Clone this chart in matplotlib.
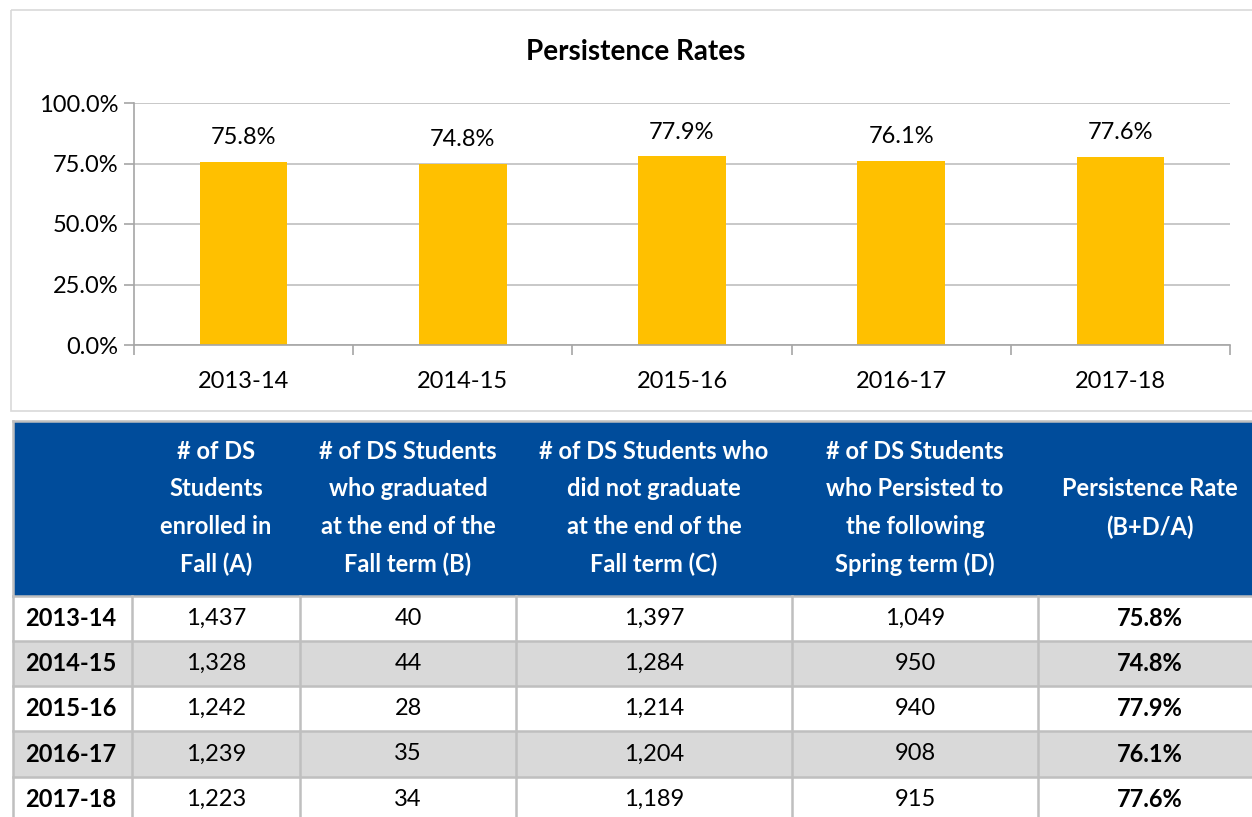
import matplotlib.pyplot as plt
from matplotlib.patches import Rectangle
import numpy as np

plt.rcParams['font.family'] = ['Lato', 'DejaVu Sans']

anos = ['2013-14', '2014-15', '2015-16', '2016-17', '2017-18']
taxa = [75.8, 74.8, 77.9, 76.1, 77.6]
matriculados = [1437, 1328, 1242, 1239, 1223]
formados = [40, 44, 28, 35, 34]
nao_formados = [1397, 1284, 1214, 1204, 1189]
persistiram = [1049, 950, 940, 908, 915]

cabecalhos = ['',
              '# of DS\nStudents\nenrolled in\nFall (A)',
              '# of DS Students\nwho graduated\nat the end of the\nFall term (B)',
              '# of DS Students who\ndid not graduate\nat the end of the\nFall term (C)',
              '# of DS Students\nwho Persisted to\nthe following\nSpring term (D)',
              'Persistence Rate\n(B+D/A)']

W, H = 1252, 817
fs = 17
fig = plt.figure(figsize=(W / 100, H / 100), dpi=100)

# camada de fundo em coordenadas de pixel
fundo = fig.add_axes([0, 0, 1, 1])
fundo.set_xlim(0, W)
fundo.set_ylim(H, 0)
fundo.axis('off')

# moldura do grafico
fundo.add_patch(Rectangle((11, 10), 1260, 401, fill=False, ec='#D9D9D9', lw=1.2))
fundo.text(636, 52, 'Persistence Rates', ha='center', va='center',
           fontsize=20, fontweight='bold', color='black')

# grafico de barras
x0, x1, ytop, ybot = 134, 1230, 103, 345
ax = fig.add_axes([x0 / W, (H - ybot) / H, (x1 - x0) / W, (ybot - ytop) / H])
x = np.arange(len(anos))
barras = ax.bar(x, taxa, width=0.4, color='#FFC000')
ax.bar_label(barras, labels=[f'{v:.1f}%' for v in taxa], padding=10, fontsize=fs)
ax.set_xlim(-0.5, len(anos) - 0.5)
ax.set_ylim(0, 100)
ax.set_yticks([0, 25, 50, 75, 100])
ax.set_yticklabels([f'{v:.1f}%' for v in [0, 25, 50, 75, 100]], fontsize=fs)
ax.yaxis.grid(True, color='#BFBFBF', lw=1.2)
ax.set_axisbelow(True)
ax.set_xticks(np.arange(-0.5, len(anos)), minor=False)
ax.set_xticklabels([])
ax.set_xticks(x, minor=True)
ax.set_xticklabels(anos, minor=True, fontsize=fs)
ax.tick_params(axis='x', which='minor', length=0, pad=19)
ax.tick_params(axis='x', which='major', length=7, color='#A6A6A6', width=1.2)
ax.tick_params(axis='y', length=7, color='#A6A6A6', width=1.2, pad=4)
for lado in ['top', 'right']:
    ax.spines[lado].set_visible(False)
for lado in ['left', 'bottom']:
    ax.spines[lado].set_color('#A6A6A6')
    ax.spines[lado].set_linewidth(1.2)

# tabela
colunas = [13, 132, 300, 516, 792, 1038, 1262]
topo, fim_cab = 421, 596
linhas = [596, 641, 686, 731, 777, 822]
azul = '#004C9B'
cinza = '#BFBFBF'

fundo.add_patch(Rectangle((colunas[0], topo), colunas[-1] - colunas[0], fim_cab - topo,
                          color=azul, lw=0))
for j, txt in enumerate(cabecalhos):
    cx = (colunas[j] + colunas[j + 1]) / 2
    fundo.text(cx, 508, txt, ha='center', va='center', color='white',
               fontsize=fs, fontweight='bold', linespacing=1.76)

for i, ano in enumerate(anos):
    y0, y1 = linhas[i], linhas[i + 1]
    cor = '#D9D9D9' if i % 2 == 1 else 'white'
    fundo.add_patch(Rectangle((colunas[0], y0), colunas[-1] - colunas[0], y1 - y0,
                              color=cor, lw=0))
    valores = [ano, f'{matriculados[i]:,}', f'{formados[i]:,}', f'{nao_formados[i]:,}',
               f'{persistiram[i]:,}', f'{taxa[i]:.1f}%']
    cy = (y0 + y1) / 2
    for j, v in enumerate(valores):
        if j == 0:
            fundo.text(colunas[0] + 12, cy, v, ha='left', va='center',
                       fontsize=fs, fontweight='bold')
        else:
            cx = (colunas[j] + colunas[j + 1]) / 2
            fundo.text(cx, cy, v, ha='center', va='center', fontsize=fs,
                       fontweight='bold' if j == 5 else 'normal')

# linhas da grade da tabela
for yy in linhas:
    fundo.plot([colunas[0], colunas[-1]], [yy, yy], color=cinza, lw=1.8)
for xx in colunas:
    fundo.plot([xx, xx], [linhas[0], linhas[-1]], color=cinza, lw=1.8)
fundo.plot([colunas[0], colunas[0]], [topo, fim_cab], color=cinza, lw=1.8)
fundo.plot([colunas[0], colunas[-1]], [topo, topo], color=cinza, lw=1.8)

fig.savefig('out.png', dpi=100)
